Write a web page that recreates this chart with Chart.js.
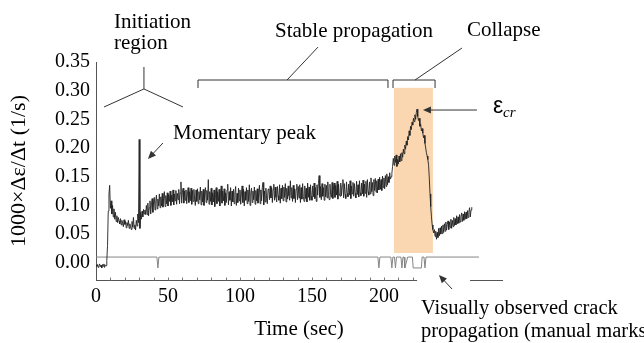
<!DOCTYPE html>
<html><head><meta charset="utf-8">
<script src="https://cdn.jsdelivr.net/npm/chart.js@4.4.0/dist/chart.umd.min.js"></script>
<style>html,body{margin:0;padding:0;background:#fff;overflow:hidden}#wrap{width:644px;height:343px}</style>
</head><body><div id="wrap"><canvas id="c" width="644" height="343"></canvas></div>
<script>
// ---- data ----
const sampleStart = 0;      // s
const sampleStep = 0.5;     // s
const strainRate = [
-.004,-.006,-.003,-.008,-.005,-.002,-.007,-.004,-.009,-.003,
-.006,-.002,-.008,-.004,-.005,.004,.030,.090,.120,.135,
.095,.108,.085,.100,.080,.094,.076,.088,.072,.082,
.070,.079,.073,.068,.077,.066,.074,.069,.063,.075,
.067,.072,.061,.070,.065,.074,.060,.068,.064,.058,
.072,.062,.079,.060,.066,.057,.074,.064,.085,.070,
.215,.060,.088,.076,.090,.080,.093,.085,.092,.084,
.100,.084,.104,.082,.096,.108,.085,.101,.112,.088,
.106,.114,.092,.108,.118,.094,.111,.099,.120,.096,
.115,.099,.121,.097,.112,.124,.098,.117,.103,.122,
.099,.119,.107,.125,.100,.118,.106,.127,.101,.120,
.108,.126,.102,.121,.110,.128,.103,.122,.141,.104,
.122,.130,.104,.125,.109,.127,.103,.120,.131,.105,
.124,.108,.130,.102,.126,.107,.128,.111,.100,.127,
.107,.129,.103,.124,.110,.132,.101,.125,.106,.128,
.100,.121,.131,.105,.126,.109,.145,.102,.124,.107,
.130,.101,.122,.106,.127,.098,.119,.131,.103,.124,
.107,.128,.099,.121,.134,.104,.125,.108,.129,.100,
.122,.105,.127,.137,.101,.124,.109,.131,.099,.125,
.106,.128,.103,.122,.133,.100,.121,.105,.130,.108,
.127,.102,.120,.134,.105,.128,.099,.124,.109,.131,
.103,.127,.107,.136,.100,.122,.130,.105,.125,.110,
.132,.102,.126,.108,.129,.104,.121,.135,.103,.127,
.108,.131,.140,.101,.125,.106,.130,.112,.103,.128,
.129,.110,.134,.113,.131,.105,.128,.137,.109,.132,
.114,.106,.133,.117,.109,.136,.104,.130,.112,.135,
.108,.132,.114,.138,.106,.130,.111,.134,.117,.109,
.143,.113,.131,.107,.135,.112,.129,.105,.128,.137,
.110,.133,.113,.136,.105,.131,.111,.138,.116,.107,
.134,.112,.130,.106,.139,.114,.132,.109,.136,.116,
.109,.134,.115,.139,.112,.131,.107,.136,.118,.138,
.152,.114,.133,.110,.138,.116,.131,.109,.137,.115,
.135,.113,.141,.117,.110,.137,.119,.114,.140,.112,
.133,.139,.114,.135,.118,.142,.111,.137,.120,.116,
.139,.117,.134,.145,.113,.138,.119,.112,.141,.121,
.115,.137,.118,.143,.112,.134,.120,.140,.116,.138,
.121,.113,.142,.119,.136,.115,.143,.122,.117,.139,
.120,.144,.116,.137,.121,.142,.114,.145,.124,.118,
.141,.120,.148,.124,.140,.117,.145,.126,.147,.123,
.143,.122,.146,.127,.149,.128,.145,.126,.151,.131,
.148,.129,.152,.133,.155,.136,.150,.140,.157,.146,
.150,.156,.168,.182,.170,.186,.175,.188,.168,.180,
.172,.186,.176,.190,.178,.192,.184,.198,.190,.205,
.198,.212,.205,.220,.214,.230,.222,.238,.232,.245,
.240,.252,.246,.258,.250,.262,.268,.255,.248,.252,
.238,.242,.230,.234,.226,.218,.222,.208,.200,.192,
.186,.180,.170,.148,.120,.098,.080,.066,.058,.052,
.058,.046,.055,.041,.053,.044,.060,.047,.061,.050,
.064,.051,.066,.053,.068,.055,.071,.057,.067,.073,
.058,.071,.061,.076,.060,.074,.063,.079,.065,.077,
.066,.082,.068,.080,.069,.084,.071,.081,.087,.072,
.085,.074,.089,.076,.088,.077,.091,.079,.090,.096,
.080,.092,.097
];
const markTimes  = [0, 42.3, 43, 43.7, 195.8, 196.5, 197.2, 204.8, 205.5, 206.2, 207.3, 208, 208.7, 211.8, 212.5, 213.2, 214, 214.5, 216.5, 219.8, 220.3, 226, 226.5, 227.8, 228.5, 229.2, 266];
const markValues = [.01, .01, -.009, .01, .01, -.009, .01, .01, -.009, .01, .01, -.009, .01, .01, -.009, .01, .01, -.009, .01, .01, -.009, -.009, .01, .01, -.009, .01, .01];
const xTickValues = [0, 50, 100, 150, 200];
const yTickValues = [0, 0.05, 0.10, 0.15, 0.20, 0.25, 0.30, 0.35];
const collapseRange = [207, 234];
const collapseBand = [0.017, 0.305];
const xLimits = [0, 282];
const yLimits = [-0.03, 0.35];

// ---- chart ----
const rateData = strainRate.map((v, i) => ({x: sampleStart + i * sampleStep, y: v}));
const markData = markTimes.map((t, i) => ({x: t, y: markValues[i]}));

const SERIF = '"Liberation Serif", "Times New Roman", serif';

function arrow(ctx, x1, y1, x2, y2) {
  const a = Math.atan2(y2 - y1, x2 - x1), L = 8, W = 3.5;
  ctx.beginPath(); ctx.moveTo(x1, y1); ctx.lineTo(x2 - Math.cos(a) * 4, y2 - Math.sin(a) * 4); ctx.stroke();
  ctx.beginPath();
  ctx.moveTo(x2, y2);
  ctx.lineTo(x2 - L * Math.cos(a) + W * Math.sin(a), y2 - L * Math.sin(a) - W * Math.cos(a));
  ctx.lineTo(x2 - L * Math.cos(a) - W * Math.sin(a), y2 - L * Math.sin(a) + W * Math.cos(a));
  ctx.closePath(); ctx.fill();
}

const annot = {
  id: 'annot',
  beforeDatasetsDraw(chart) {
    const {ctx, scales: {x, y}} = chart;
    ctx.save();
    ctx.fillStyle = '#FAD7B0';
    const x0 = x.getPixelForValue(collapseRange[0]), x1 = x.getPixelForValue(collapseRange[1]);
    const y0 = y.getPixelForValue(collapseBand[1]), y1 = y.getPixelForValue(collapseBand[0]);
    ctx.fillRect(x0, y0, x1 - x0, y1 - y0);
    ctx.restore();
  },
  afterDraw(chart) {
    const {ctx, scales: {x, y}} = chart;
    const X = t => x.getPixelForValue(t), Y = v => y.getPixelForValue(v);
    ctx.save();
    // minor inner ticks on x axis
    ctx.strokeStyle = '#777'; ctx.lineWidth = 1;
    const yb = Math.round(Y(yLimits[0])) + 0.5;
    for (let t = 10; t <= 220; t += 10) {
      const px = Math.round(X(t)) + 0.5;
      ctx.beginPath(); ctx.moveTo(px, yb); ctx.lineTo(px, yb - 3); ctx.stroke();
    }
    // gap in the x axis under the annotation
    ctx.fillStyle = '#fff';
    ctx.fillRect(X(223), yb - 2, X(259.8) - X(223), 5);

    ctx.strokeStyle = '#333'; ctx.fillStyle = '#333'; ctx.lineWidth = 1;
    const line = pts => { ctx.beginPath(); pts.forEach((p, i) => i ? ctx.lineTo(X(p[0]), Y(p[1])) : ctx.moveTo(X(p[0]), Y(p[1]))); ctx.stroke(); };
    // Initiation "Y"
    line([[33.3, 0.3413], [33.3, 0.303]]);
    line([[5.6, 0.2716], [33.3, 0.303], [60.4, 0.2716]]);
    // Stable propagation bracket
    line([[70.85, 0.3047], [70.85, 0.3186], [202.8, 0.3186], [202.8, 0.3047]]);
    line([[132.7, 0.3186], [154.2, 0.376]]);
    // Collapse bracket
    line([[206.3, 0.3047], [206.3, 0.3186], [235.5, 0.3186], [235.5, 0.3047]]);
    line([[221.6, 0.3186], [254.2, 0.3744]]);
    // arrows
    arrow(ctx, X(46.5), Y(0.2088), X(36.1), Y(0.1809));
    arrow(ctx, X(264.6), Y(0.2663), X(227.1), Y(0.2663));
    arrow(ctx, X(247.3), Y(-0.0457), X(238.2), Y(-0.0213));

    // texts
    ctx.fillStyle = '#000'; ctx.textAlign = 'left'; ctx.textBaseline = 'alphabetic';
    ctx.font = '21px ' + SERIF;
    ctx.fillText('Initiation', X(12.5), Y(0.4093));
    ctx.fillText('region', X(12.5), Y(0.3727));
    ctx.fillText('Stable propagation', X(124.3), Y(0.3936));
    ctx.fillText('Collapse', X(257.7), Y(0.3953));
    ctx.fillText('Momentary peak', X(53.5), Y(0.2158));
    ctx.font = '20.5px ' + SERIF;
    ctx.fillText('Visually observed crack', X(225.7), Y(-0.0893));
    ctx.fillText('propagation (manual marks)', X(225.7), Y(-0.1294));
    ctx.font = '23px "Liberation Sans", Arial, sans-serif';
    ctx.fillText('ε', X(275.8), Y(0.2611));
    ctx.font = 'italic 15px ' + SERIF;
    ctx.fillText('cr', X(282.7), Y(0.2541));
    ctx.restore();
  }
};

new Chart(document.getElementById('c'), {
  type: 'line',
  data: {datasets: [
    {data: rateData, borderColor: '#222', borderWidth: 0.9, pointRadius: 0, tension: 0, fill: false},
    {data: markData, borderColor: '#858585', borderWidth: 1, pointRadius: 0, tension: 0, fill: false}
  ]},
  options: {
    responsive: false, animation: false, devicePixelRatio: 1,
    layout: {padding: {left: 0, right: 142, top: 62, bottom: 0}},
    plugins: {legend: {display: false}, tooltip: {enabled: false}},
    scales: {
      x: {
        type: 'linear', min: xLimits[0], max: xLimits[1],
        afterBuildTicks: s => { s.ticks = xTickValues.map(v => ({value: v})); },
        ticks: {font: {family: SERIF, size: 20}, color: '#000', padding: 5, maxRotation: 0, autoSkip: false, callback: v => String(v)},
        grid: {display: false, drawTicks: false},
        border: {display: true, color: '#555', width: 1},
        title: {display: true, text: 'Time (sec)', font: {family: SERIF, size: 21}, color: '#000', padding: {top: 0, bottom: 1}},
        afterFit: s => { s.height = 63; }
      },
      y: {
        type: 'linear', min: yLimits[0], max: yLimits[1],
        afterBuildTicks: s => { s.ticks = yTickValues.map(v => ({value: v})); },
        ticks: {font: {family: SERIF, size: 20}, color: '#000', padding: 6, callback: v => v.toFixed(2)},
        grid: {display: false, drawTicks: false},
        border: {display: true, color: '#555', width: 1},
        title: {display: true, text: '1000×Δε/Δt (1/s)', font: {family: SERIF, size: 22}, color: '#000', padding: {top: 6, bottom: 0}},
        afterFit: s => { s.width = 96; }
      }
    }
  },
  plugins: [annot]
});
</script>
</body></html>
